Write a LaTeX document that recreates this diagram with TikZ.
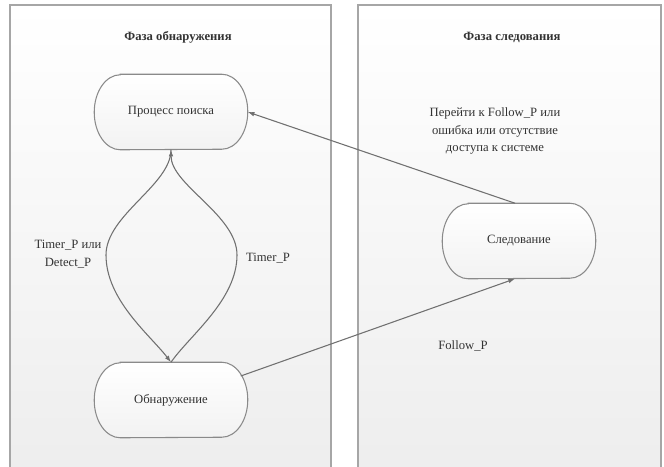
\documentclass[tikz,border=0pt]{standalone}
\usepackage{fontspec}
\setmainfont{Liberation Serif}
\usetikzlibrary{arrows.meta,calc,backgrounds}
\definecolor{panelline}{HTML}{A6A6A6}
\definecolor{nodeline}{HTML}{8A8A8A}
\definecolor{edgecol}{HTML}{707070}
\definecolor{txt}{HTML}{333333}
\newcommand\stadiumshape[1]{%
  \path[stadium] ($(#1.north west)+(26,0)$) -- ($(#1.north east)+(-26,0)$)
    arc[start angle=90,end angle=-90,x radius=19.5pt,y radius=28.125pt]
    -- ($(#1.south west)+(26,0)$)
    arc[start angle=270,end angle=90,x radius=19.5pt,y radius=28.125pt] -- cycle;}
\begin{document}
\begin{tikzpicture}[x=0.75pt,y=-0.75pt,
  panel/.style={draw=panelline, line width=1.1pt, top color=white, bottom color=black!7},
  stadium/.style={draw=nodeline, line width=0.8pt, top color=white, bottom color=black!5},
  statebox/.style={minimum width=114.75pt, minimum height=56.25pt, inner sep=0pt,
    text=txt, font=\fontsize{9.5}{11}\selectfont},
  title/.style={text=txt, font=\fontsize{9.5}{11}\selectfont\bfseries},
  lbl/.style={text=txt, align=center, font=\fontsize{9.5}{13}\selectfont},
  edge/.style={draw=edgecol, line width=0.8pt, -{Latex[length=5pt,width=3.5pt]}}]
\useasboundingbox (0,0) rectangle (664,467);
\clip (0,0) rectangle (664,467);
\node[title] (t1) at (178,37) {Фаза обнаружения};
\node[title] (t2) at (512,37) {Фаза следования};
\node[statebox] (pp) at (171,112) {Процесс поиска};
\node[statebox] (obn) at (171,400) {Обнаружение};
\node[statebox] (sled) at (519,241) {Следование};
\begin{pgfonlayer}{background}
\fill[white] (0,0) rectangle (664,467);
\path[panel] (10,5) rectangle (331,480);
\path[panel] (358,5) rectangle (661,480);
\stadiumshape{pp}
\stadiumshape{obn}
\stadiumshape{sled}
\end{pgfonlayer}
\draw[edge] (pp.south) .. controls (171,185) and (106,215) .. (106,255)
   .. controls (106,300) and (150,335) .. (obn.north);
\draw[edge] (obn.north) .. controls (190,335) and (237,300) .. (237,255)
   .. controls (237,215) and (171,185) .. (pp.south);
\draw[edge] ([xshift=-5.25pt,yshift=18pt]obn.east) -- ([xshift=-3pt]sled.south);
\draw[edge] ([xshift=-3pt]sled.north) -- (pp.east);
\node[lbl] (l1) at (68,254) {Timer\_P или\\Detect\_P};
\node[lbl] (l2) at (268,258) {Timer\_P};
\node[lbl] (l3) at (495,131) {Перейти к Follow\_P или\\ошибка или отсутствие\\доступа к системе};
\node[lbl] (l4) at (463,346) {Follow\_P};
\end{tikzpicture}
\end{document}
